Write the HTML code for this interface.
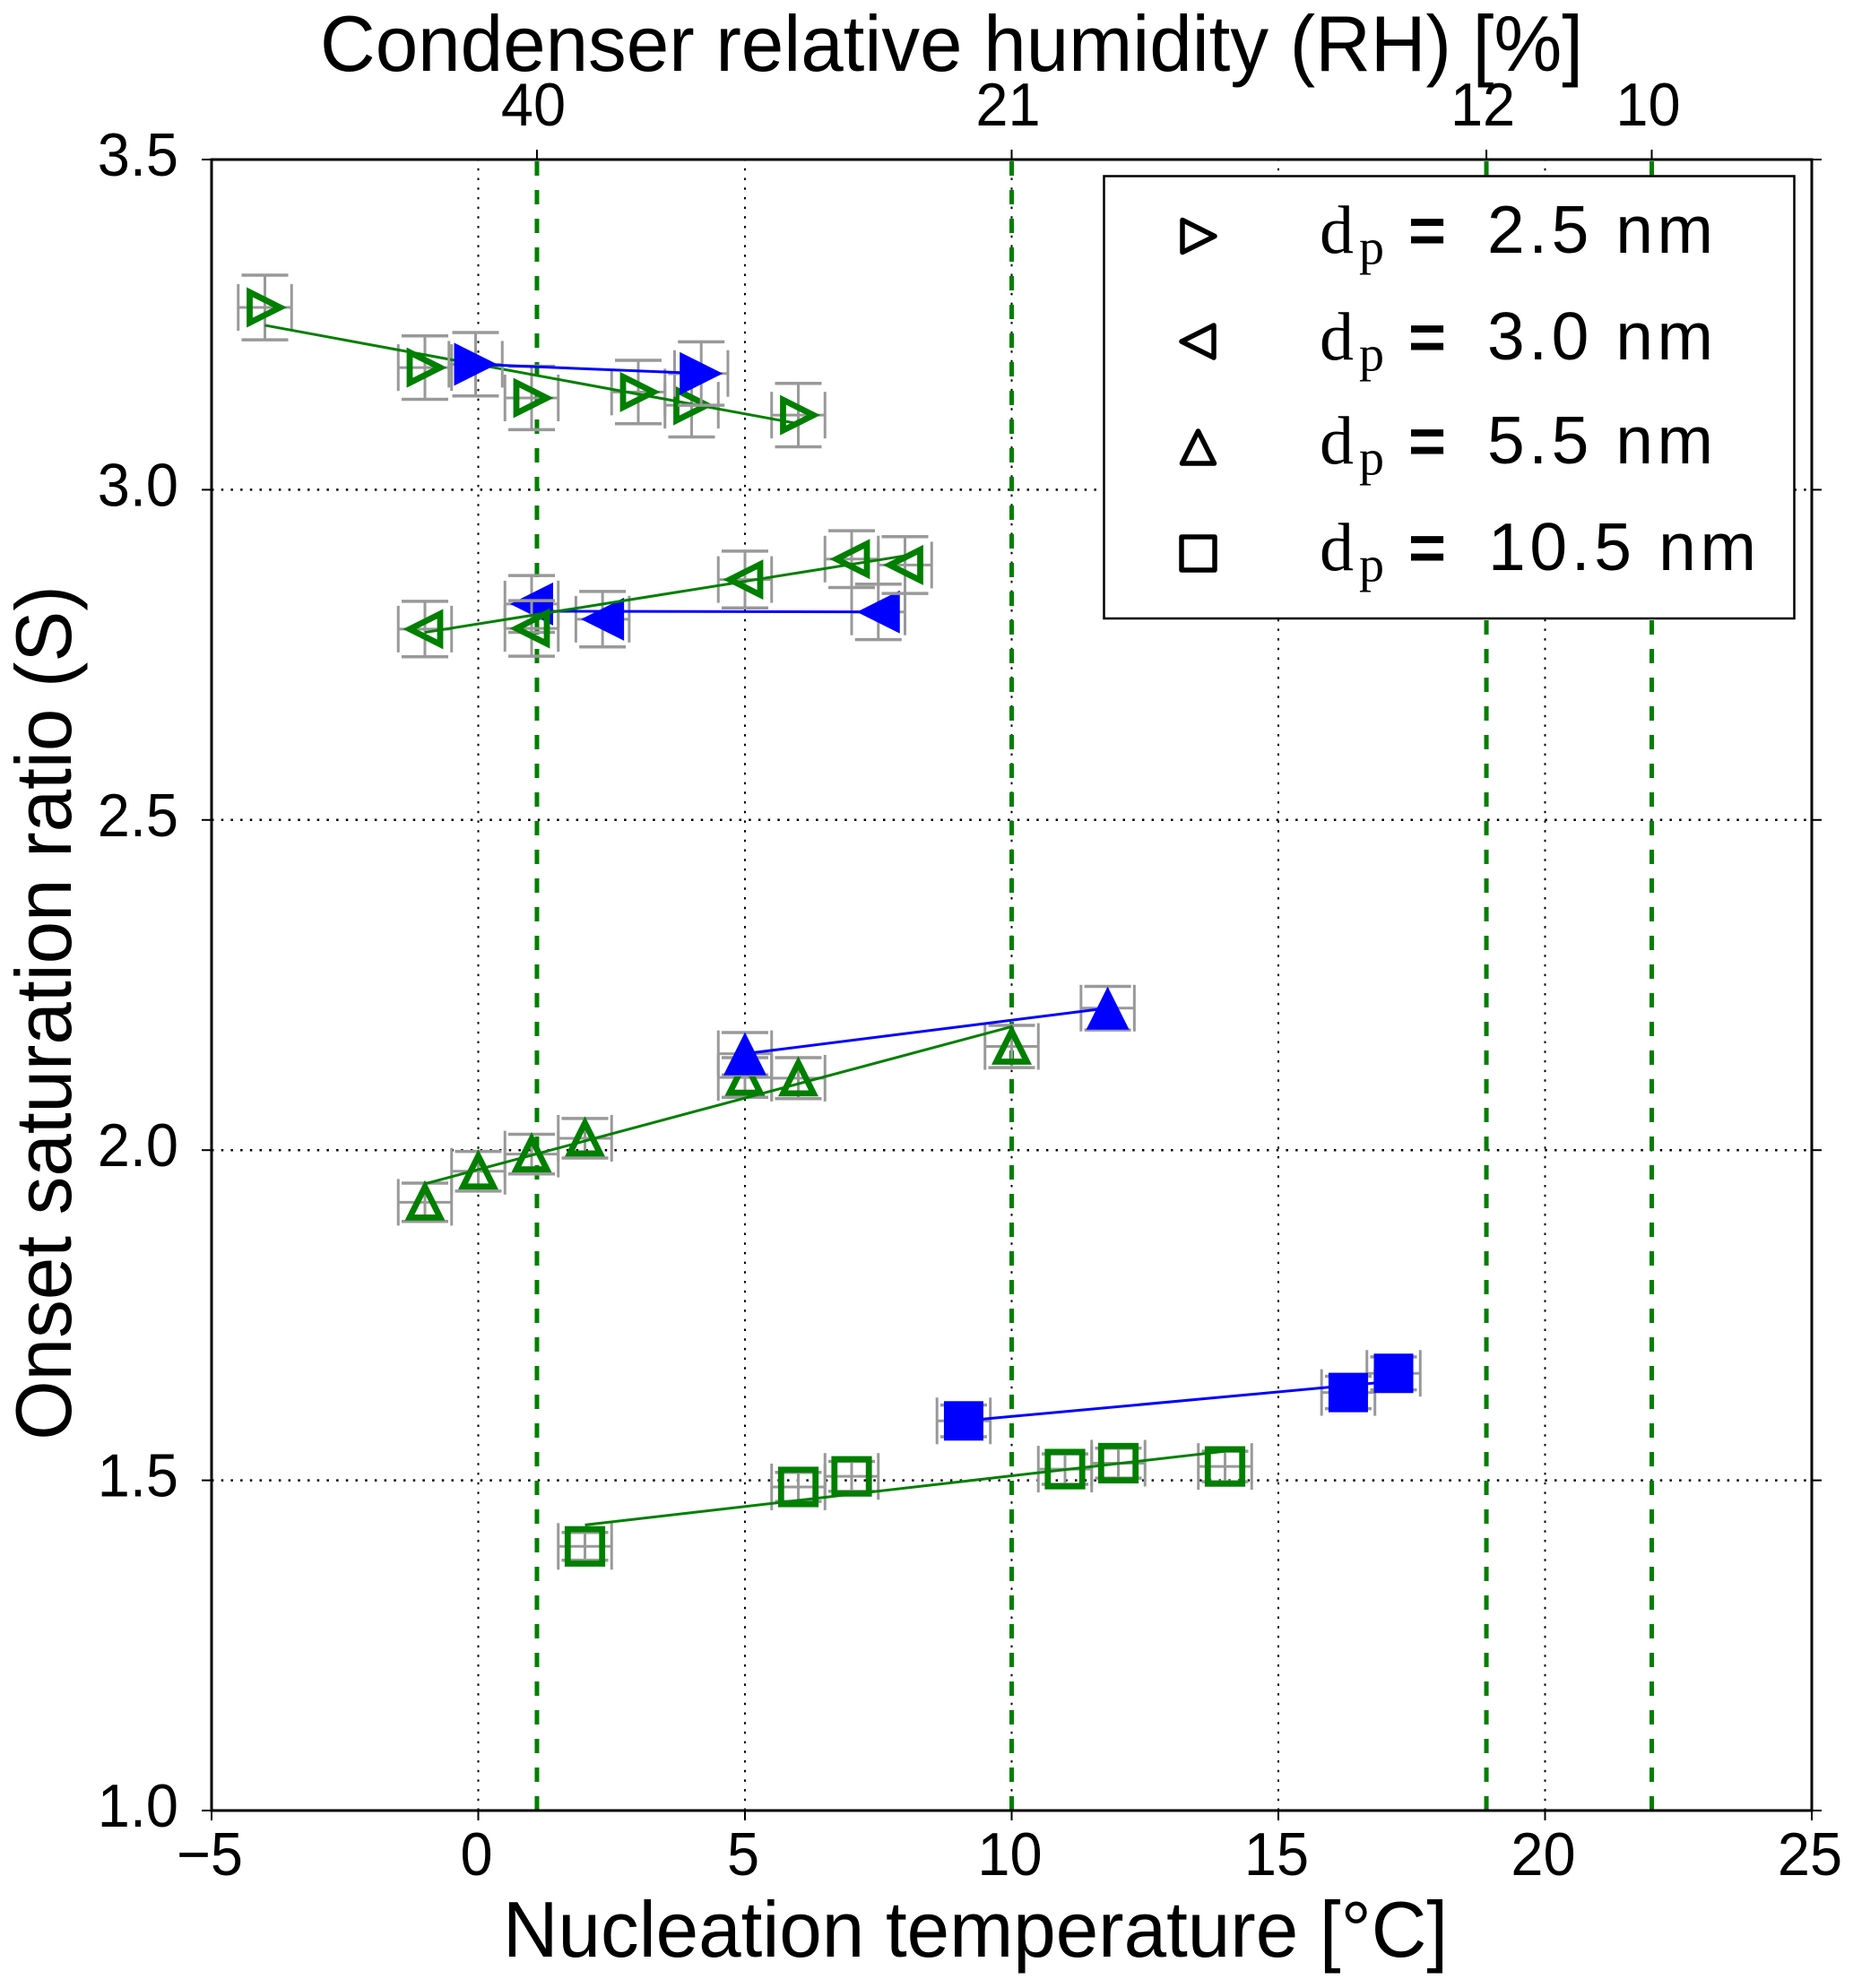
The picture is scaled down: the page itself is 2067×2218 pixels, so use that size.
<!DOCTYPE html>
<html lang="en">
<head>
<meta charset="utf-8">
<title>Onset saturation ratio vs nucleation temperature</title>
<style>
html,body{margin:0;padding:0;background:#fff;}
svg{display:block;}
text{font-family:"Liberation Sans",sans-serif;fill:#000;}
.serif{font-family:"Liberation Serif",serif;}
</style>
</head>
<body>
<svg id="chart" xmlns="http://www.w3.org/2000/svg" width="2067" height="2218" viewBox="0 0 2067 2218">
  <rect x="0" y="0" width="2067" height="2218" fill="#fff"/>
  <g id="grid"></g>
  <g id="rh-lines"></g>
  <g id="plot"></g>
  <g id="axes"></g>

  <text font-size="88" text-anchor="middle" transform="translate(1061.5 79) scale(0.97 1)">Condenser relative humidity (RH) [%]</text>
  <text font-size="88" text-anchor="middle" transform="translate(1088 2183) scale(0.97 1)">Nucleation temperature [°C]</text>
  <text font-size="88" text-anchor="middle" transform="translate(79 1130) rotate(-90) scale(0.97 1)">Onset saturation ratio (S)</text>

  <g>
    <rect x="1231.5" y="196.5" width="770" height="493.5" fill="#fff" stroke="#000" stroke-width="2.5"/>

    <g>
      <polygon points="1355,263.5 1319,245.5 1319,281.5" fill="none" stroke="#000" stroke-width="5.5" stroke-linejoin="round"/>
      <text class="serif" x="1472" y="282.5" font-size="76">d</text>
      <text class="serif" x="1516" y="294.5" font-size="56">p</text>
      <text x="1571" y="282" font-size="72" font-weight="bold">=</text>
      <text x="1659" y="282" font-size="75" textLength="252" lengthAdjust="spacing">2.5 nm</text>
    </g>
    <g>
      <polygon points="1318,381 1354,363 1354,399" fill="none" stroke="#000" stroke-width="5.5" stroke-linejoin="round"/>
      <text class="serif" x="1472" y="401.5" font-size="76">d</text>
      <text class="serif" x="1516" y="413.5" font-size="56">p</text>
      <text x="1571" y="401" font-size="72" font-weight="bold">=</text>
      <text x="1659" y="401" font-size="75" textLength="252" lengthAdjust="spacing">3.0 nm</text>
    </g>
    <g>
      <polygon points="1336.5,481 1318.5,517 1354.5,517" fill="none" stroke="#000" stroke-width="5.5" stroke-linejoin="round"/>
      <text class="serif" x="1472" y="517.5" font-size="76">d</text>
      <text class="serif" x="1516" y="529.5" font-size="56">p</text>
      <text x="1571" y="517" font-size="72" font-weight="bold">=</text>
      <text x="1659" y="517" font-size="75" textLength="252" lengthAdjust="spacing">5.5 nm</text>
    </g>
    <g>
      <rect x="1318" y="599" width="37" height="37" fill="none" stroke="#000" stroke-width="5.5" stroke-linejoin="round"/>
      <text class="serif" x="1472" y="636.5" font-size="76">d</text>
      <text class="serif" x="1516" y="648.5" font-size="56">p</text>
      <text x="1571" y="636" font-size="72" font-weight="bold">=</text>
      <text x="1660" y="636" font-size="75" textLength="299" lengthAdjust="spacing">10.5 nm</text>
    </g>
  </g>
</svg>

<script>
// Axis values
const xTicks = [-5, 0, 5, 10, 15, 20, 25];
const xTickLabels = ['−5', '0', '5', '10', '15', '20', '25'];
const yTicks = [1.0, 1.5, 2.0, 2.5, 3.0, 3.5];
const yTickLabels = ['1.0', '1.5', '2.0', '2.5', '3.0', '3.5'];
const xGridValues = [0, 5, 10, 15, 20];
const yGridValues = [1.5, 2.0, 2.5, 3.0];
const rhTemps = [1.1, 10.0, 18.9, 22.0];
const rhLabels = ['40', '21', '12', '10'];

// dp = 2.5 nm
const d25GreenT = [-4, -1, 1, 3, 4, 6];
const d25GreenS = [3.276, 3.185, 3.139, 3.148, 3.128, 3.113];
const d25GreenErrS = [0.049, 0.048, 0.048, 0.048, 0.048, 0.048];
const d25GreenFitT = [-4, 6];
const d25GreenFitS = [3.249, 3.10];
const d25BlueT = [-0.05, 4.18];
const d25BlueS = [3.19, 3.176];
const d25BlueErrS = [0.048, 0.048];
const d25BlueFitT = [-0.05, 4.18];
const d25BlueFitS = [3.19, 3.176];

// dp = 3.0 nm
const d30GreenT = [-1, 1, 5, 7, 8];
const d30GreenS = [2.789, 2.79, 2.864, 2.895, 2.886];
const d30GreenErrS = [0.042, 0.042, 0.043, 0.043, 0.043];
const d30GreenFitT = [-1, 8];
const d30GreenFitS = [2.784, 2.90];
const d30BlueT = [1.0, 2.33, 7.5];
const d30BlueS = [2.827, 2.804, 2.815];
const d30BlueErrS = [0.043, 0.042, 0.042];
const d30BlueFitT = [1.0, 7.5];
const d30BlueFitS = [2.816, 2.815];

// dp = 5.5 nm
const d55GreenT = [-1, 0, 1, 2, 5, 6, 10];
const d55GreenS = [1.921, 1.968, 1.994, 2.018, 2.11, 2.109, 2.157];
const d55GreenErrS = [0.029, 0.03, 0.03, 0.03, 0.03, 0.031, 0.032];
const d55GreenFitT = [-1, 10];
const d55GreenFitS = [1.949, 2.187];
const d55BlueT = [5.0, 11.8];
const d55BlueS = [2.146, 2.215];
const d55BlueErrS = [0.032, 0.033];
const d55BlueFitT = [5.0, 11.8];
const d55BlueFitS = [2.146, 2.215];

// dp = 10.5 nm
const d105GreenT = [2, 6, 7, 11, 12, 14];
const d105GreenS = [1.40, 1.49, 1.506, 1.517, 1.526, 1.521];
const d105GreenErrS = [0.021, 0.022, 0.0226, 0.023, 0.0226, 0.023];
const d105GreenFitT = [2, 14];
const d105GreenFitS = [1.4325, 1.544];
const d105BlueT = [9.1, 16.31, 17.16];
const d105BlueS = [1.59, 1.633, 1.662];
const d105BlueErrS = [0.024, 0.0245, 0.025];
const d105BlueFitT = [9.1, 17.16];
const d105BlueFitS = [1.59, 1.65];

const tempErr = 0.5;

const SVG_NS = 'http://www.w3.org/2000/svg';
const plotLeft = 236, plotRight = 2021, plotTop = 178, plotBottom = 2020;
const xMin = -5, xMax = 25, yMin = 1.0, yMax = 3.5;
const GREEN = '#007f00', BLUE = '#0000ff', GREY = '#999999';
const CAP = 26;
const TICK_FONT = 68, TICK_STRETCH = 0.955;

function sx(t) { return plotLeft + (t - xMin) / (xMax - xMin) * (plotRight - plotLeft); }
function sy(s) { return plotBottom - (s - yMin) / (yMax - yMin) * (plotBottom - plotTop); }

function make(tag, attrs, parent) {
  const el = document.createElementNS(SVG_NS, tag);
  for (const k in attrs) { el.setAttribute(k, attrs[k]); }
  parent.appendChild(el);
  return el;
}

function drawLine(parent, x1, y1, x2, y2, stroke, width, dash) {
  const attrs = { x1: x1, y1: y1, x2: x2, y2: y2, stroke: stroke, 'stroke-width': width };
  if (dash) { attrs['stroke-dasharray'] = dash; }
  return make('line', attrs, parent);
}

function tickText(parent, x, y, anchor, content) {
  const el = make('text', { 'font-size': TICK_FONT, 'text-anchor': anchor, transform: 'translate(' + x + ' ' + y + ') scale(' + TICK_STRETCH + ' 1)' }, parent);
  el.textContent = content;
  return el;
}

function markerShape(parent, shape, cx, cy, h, fill, stroke, width) {
  const style = { fill: fill, stroke: stroke, 'stroke-width': width, 'stroke-linejoin': 'miter', 'stroke-miterlimit': 10 };
  if (shape === 'square') {
    return make('rect', Object.assign({ x: cx - h, y: cy - h, width: 2 * h, height: 2 * h }, style), parent);
  }
  let pts;
  if (shape === 'right') {
    pts = [[cx + h, cy], [cx - h, cy - h], [cx - h, cy + h]];
  } else if (shape === 'left') {
    pts = [[cx - h, cy], [cx + h, cy - h], [cx + h, cy + h]];
  } else {
    pts = [[cx, cy - h], [cx - h, cy + h], [cx + h, cy + h]];
  }
  return make('polygon', Object.assign({ points: pts.map(p => p.join(',')).join(' ') }, style), parent);
}

function drawSeries(name, shape, filled, T, S, errS, fitT, fitS) {
  const root = document.getElementById('plot');
  const group = make('g', {}, root);
  
  
  const color = filled ? BLUE : GREEN;

  T.forEach(function (t, i) {
    const cx = sx(t), cy = sy(S[i]);
    const xl = sx(t - tempErr), xr = sx(t + tempErr);
    const yt = sy(S[i] + errS[i]), yb = sy(S[i] - errS[i]);
    const eb = make('g', { stroke: GREY, 'stroke-width': 3 }, group);
    
    
    drawLine(eb, xl, cy, xr, cy, GREY, 3);
    drawLine(eb, cx, yt, cx, yb, GREY, 3);
    drawLine(eb, cx - CAP, yt, cx + CAP, yt, GREY, 3.5);
    drawLine(eb, cx - CAP, yb, cx + CAP, yb, GREY, 3.5);
    drawLine(eb, xl, cy - CAP, xl, cy + CAP, GREY, 3);
    drawLine(eb, xr, cy - CAP, xr, cy + CAP, GREY, 3);
  });

  const fit = drawLine(group, sx(fitT[0]), sy(fitS[0]), sx(fitT[1]), sy(fitS[1]), color, 3);
  
  

  T.forEach(function (t, i) {
    const cx = sx(t), cy = sy(S[i]);
    let m;
    if (filled) {
      m = markerShape(group, shape, cx, cy, shape === 'square' ? 22 : 24, BLUE, 'none', 0);
    } else {
      m = markerShape(group, shape, cx, cy, shape === 'square' ? 19.2 : 17, 'none', GREEN, 6.8);
    }
    
    
  });
}

function drawGrid() {
  const g = document.getElementById('grid');
  xGridValues.forEach(function (t) {
    const l = drawLine(g, sx(t), plotBottom, sx(t), plotTop, '#000', 2, '2.5 8.2');
    
    
  });
  yGridValues.forEach(function (s) {
    const l = drawLine(g, plotLeft, sy(s), plotRight, sy(s), '#000', 2.5, '2.5 8.2');
    
    
  });
}

function drawRhLines() {
  const g = document.getElementById('rh-lines');
  rhTemps.forEach(function (t) {
    const l = drawLine(g, sx(t), plotBottom, sx(t), plotTop, GREEN, 5, '16 16');
    
    
  });
}

function drawAxes() {
  const g = document.getElementById('axes');
  const frame = make('rect', { x: plotLeft, y: plotTop, width: plotRight - plotLeft, height: plotBottom - plotTop, fill: 'none', stroke: '#000', 'stroke-width': 3 }, g);
  
  

  xTicks.forEach(function (t, i) {
    const tick = drawLine(g, sx(t), plotBottom, sx(t), plotBottom + 11, '#000', 2);
    
    
    const label = tickText(g, sx(t) - 2, plotBottom + 72, 'middle', xTickLabels[i]);
    
    
  });

  yTicks.forEach(function (s, i) {
    const tickL = drawLine(g, plotLeft - 11, sy(s), plotLeft, sy(s), '#000', 2);
    
    
    const tickR = drawLine(g, plotRight, sy(s), plotRight + 11, sy(s), '#000', 2);
    
    
    const label = tickText(g, 199, sy(s) + 18, 'end', yTickLabels[i]);
    
    
  });

  rhTemps.forEach(function (t, i) {
    const tick = drawLine(g, sx(t), plotTop - 11, sx(t), plotTop, '#000', 2);
    
    
    const label = tickText(g, sx(t) - 4, 140, 'middle', rhLabels[i]);
    
    
  });
}

drawGrid();
drawRhLines();
drawSeries('series-2-5-nm-green', 'right', false, d25GreenT, d25GreenS, d25GreenErrS, d25GreenFitT, d25GreenFitS);
drawSeries('series-2-5-nm-blue', 'right', true, d25BlueT, d25BlueS, d25BlueErrS, d25BlueFitT, d25BlueFitS);
drawSeries('series-3-0-nm-blue', 'left', true, d30BlueT, d30BlueS, d30BlueErrS, d30BlueFitT, d30BlueFitS);
drawSeries('series-3-0-nm-green', 'left', false, d30GreenT, d30GreenS, d30GreenErrS, d30GreenFitT, d30GreenFitS);
drawSeries('series-5-5-nm-green', 'up', false, d55GreenT, d55GreenS, d55GreenErrS, d55GreenFitT, d55GreenFitS);
drawSeries('series-5-5-nm-blue', 'up', true, d55BlueT, d55BlueS, d55BlueErrS, d55BlueFitT, d55BlueFitS);
drawSeries('series-10-5-nm-green', 'square', false, d105GreenT, d105GreenS, d105GreenErrS, d105GreenFitT, d105GreenFitS);
drawSeries('series-10-5-nm-blue', 'square', true, d105BlueT, d105BlueS, d105BlueErrS, d105BlueFitT, d105BlueFitS);
drawAxes();
</script>
</body>
</html>
